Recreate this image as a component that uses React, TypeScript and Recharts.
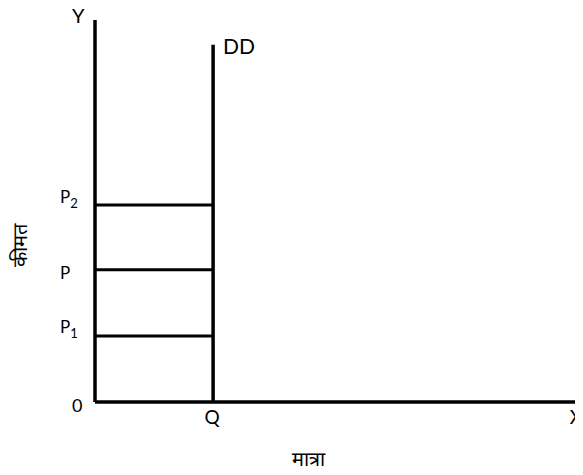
import { ComposedChart, Line, XAxis, YAxis } from "recharts";

// demand curve DD: vertical (perfectly inelastic) at quantity Q
const DD_CURVE = [
  { q: 24.2, p: 0 },
  { q: 24.2, p: 93.5 },
];
// price levels up to the DD curve
const PRICE_P2 = [
  { q: 0, p: 51.6 },
  { q: 24.2, p: 51.6 },
];
const PRICE_P = [
  { q: 0, p: 34.6 },
  { q: 24.2, p: 34.6 },
];
const PRICE_P1 = [
  { q: 0, p: 17.3 },
  { q: 24.2, p: 17.3 },
];

const Y_TICKS = [0, 17.3, 34.6, 51.6, 100];
const Y_TICK_LABELS = ["0", "P1", "P", "P2", "Y"];
const X_TICKS = [24.2, 100];
const X_TICK_LABELS = ["Q", "X"];

const FONT = "Lato, 'Open Sans', sans-serif";
const INK = "#000";
const STROKE = 3.5;

// small vertical nudges so labels sit where the drawing has them
const TICK_NUDGE: Record<string, number> = { "0": 4, P1: -9, P: 3, P2: -8, Y: -3 };

function YTick({ x, y, payload, index }: any) {
  const label = Y_TICK_LABELS[index] ?? String(payload.value);
  const dy = (TICK_NUDGE[label] ?? 0) + 6;
  if (label.startsWith("P")) {
    const sub = label.slice(1);
    return (
      <text x={x - 35} y={y + dy} fontFamily={FONT} fontSize={17} fill={INK} textAnchor="start">
        <tspan>P</tspan>
        {sub && (
          <tspan dy={5} fontSize={13}>
            {sub}
          </tspan>
        )}
      </text>
    );
  }
  return (
    <text x={x - 23} y={y + dy} fontFamily={FONT} fontSize={label === "Y" ? 20 : 18} fill={INK} textAnchor="start">
      {label}
    </text>
  );
}

function XTick({ x, y, index }: any) {
  const label = X_TICK_LABELS[index];
  const last = index === X_TICK_LABELS.length - 1;
  return (
    <text
      x={last ? x - 1 : x - 1}
      y={y + 22}
      fontFamily={FONT}
      fontSize={19}
      fill={INK}
      textAnchor={last ? "end" : "middle"}
    >
      {label}
    </text>
  );
}

function DDLabel({ x, y, index }: any) {
  if (index !== 1) return null;
  return (
    <text x={x + 10} y={y + 9} fontFamily={FONT} fontSize={21} fill={INK}>
      DD
    </text>
  );
}

export default function App() {
  return (
    <div style={{ margin: -8, width: 583, height: 475, background: "#fff" }}>
      <ComposedChart width={583} height={475} margin={{ top: 20, right: 0, bottom: 43, left: 0 }}>
        <XAxis
          type="number"
          dataKey="q"
          domain={[0, 100]}
          ticks={X_TICKS}
          interval={0}
          tick={<XTick />}
          tickLine={false}
          tickSize={0}
          tickMargin={0}
          height={30}
          axisLine={{ stroke: INK, strokeWidth: STROKE }}
          allowDataOverflow
          label={({ viewBox }: any) => (
            <text x={viewBox.x + 213} y={viewBox.y + 64} fontFamily="serif" fontSize={20} fill={INK} textAnchor="middle">
              मात्रा
            </text>
          )}
        />
        <YAxis
          type="number"
          dataKey="p"
          domain={[0, 100]}
          ticks={Y_TICKS}
          interval={0}
          tick={<YTick />}
          tickLine={false}
          tickSize={0}
          tickMargin={0}
          width={95}
          axisLine={{ stroke: INK, strokeWidth: STROKE }}
          allowDataOverflow
          label={() => (
            <text
              x={27}
              y={245}
              fontFamily="serif"
              fontSize={20}
              fill={INK}
              textAnchor="middle"
              transform="rotate(-90 27 245)"
            >
              कीमत
            </text>
          )}
        />
        <Line data={PRICE_P2} dataKey="p" stroke={INK} strokeWidth={3} dot={false} isAnimationActive={false} />
        <Line data={PRICE_P} dataKey="p" stroke={INK} strokeWidth={3} dot={false} isAnimationActive={false} />
        <Line data={PRICE_P1} dataKey="p" stroke={INK} strokeWidth={3} dot={false} isAnimationActive={false} />
        <Line
          data={DD_CURVE}
          dataKey="p"
          stroke={INK}
          strokeWidth={STROKE}
          dot={false}
          label={<DDLabel />}
          isAnimationActive={false}
        />
      </ComposedChart>
    </div>
  );
}
